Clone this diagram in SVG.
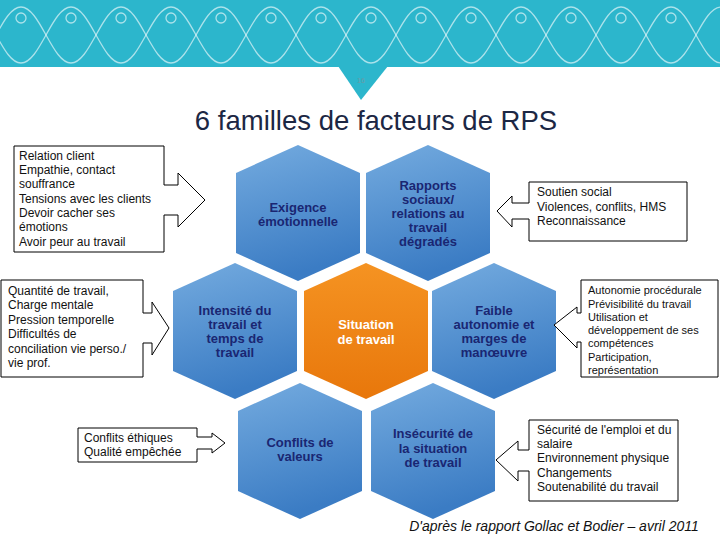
<svg xmlns="http://www.w3.org/2000/svg" width="720" height="540" viewBox="0 0 720 540">
<style>
text{font-family:"Liberation Sans",Arial,sans-serif}
.box{fill:#fff;stroke:#000;stroke-width:1}
.bt{font-size:12px;fill:#111}
.bs{font-size:11px;fill:#111}
.ht{font-size:13px;font-weight:bold;fill:#1a2672;text-anchor:middle}
.hw{font-size:13px;font-weight:bold;fill:#fff;text-anchor:middle}
.wave{fill:none;stroke:#fff;stroke-opacity:.6;stroke-width:1.3}
</style>
<defs>
<linearGradient id="gb" x1="0" y1="0" x2="0.25" y2="1">
<stop offset="0" stop-color="#74abdf"/>
<stop offset="1" stop-color="#3b7cc4"/>
</linearGradient>
<linearGradient id="go" x1="0" y1="0" x2="0" y2="1">
<stop offset="0" stop-color="#f59322"/>
<stop offset="1" stop-color="#e8770b"/>
</linearGradient>
<polygon id="hex" points="0,-68 62,-40 62,40 0,68 -62,40 -62,-40"/>
<clipPath id="bc"><rect x="0" y="0" width="720" height="67"/></clipPath>
</defs>
<rect width="720" height="540" fill="#fff"/>
<g id="banner">
<rect x="0" y="0" width="720" height="67" fill="#2cb6cc"/>
<polygon points="338,66 388,66 361,100" fill="#2cb6cc"/>
<g clip-path="url(#bc)">
<path class="wave" d="M -29 63 C -10 63 2 7 21 7 S 52 63 71 63 S 102 7 121 7 S 152 63 171 63 S 202 7 221 7 S 252 63 271 63 S 302 7 321 7 S 352 63 371 63 S 402 7 421 7 S 452 63 471 63 S 502 7 521 7 S 552 63 571 63 S 602 7 621 7 S 652 63 671 63 S 702 7 721 7 S 752 63 771 63"/>
<path class="wave" d="M -29 7 C -10 7 2 63 21 63 S 52 7 71 7 S 102 63 121 63 S 152 7 171 7 S 202 63 221 63 S 252 7 271 7 S 302 63 321 63 S 352 7 371 7 S 402 63 421 63 S 452 7 471 7 S 502 63 521 63 S 552 7 571 7 S 602 63 621 63 S 652 7 671 7 S 702 63 721 63 S 752 7 771 7"/>
<g class="wave">
<circle cx="21" cy="18" r="5"/><circle cx="71" cy="18" r="5"/><circle cx="121" cy="18" r="5"/><circle cx="171" cy="18" r="5"/><circle cx="221" cy="18" r="5"/><circle cx="271" cy="18" r="5"/><circle cx="321" cy="18" r="5"/><circle cx="371" cy="18" r="5"/><circle cx="421" cy="18" r="5"/><circle cx="471" cy="18" r="5"/><circle cx="521" cy="18" r="5"/><circle cx="571" cy="18" r="5"/><circle cx="621" cy="18" r="5"/><circle cx="671" cy="18" r="5"/>
</g>
</g>
<text x="361" y="83" font-size="7" fill="#6a9aa6" text-anchor="middle">16</text>
</g>
<text id="title" x="376" y="130" font-size="27.5" fill="#1c2744" text-anchor="middle">6 familles de facteurs de RPS</text>

<g id="hex-exigence">
<use href="#hex" x="298" y="213" fill="url(#gb)"/>
<text class="ht" x="298" y="212">Exigence</text>
<text class="ht" x="298" y="226">émotionnelle</text>
</g>
<g id="hex-rapports">
<use href="#hex" x="428" y="213" fill="url(#gb)"/>
<text class="ht" x="428" y="190">Rapports</text>
<text class="ht" x="428" y="204">sociaux/</text>
<text class="ht" x="428" y="218">relations au</text>
<text class="ht" x="428" y="232">travail</text>
<text class="ht" x="428" y="246">dégradés</text>
</g>
<g id="hex-intensite">
<use href="#hex" x="235" y="331" fill="url(#gb)"/>
<text class="ht" x="235" y="315">Intensité du</text>
<text class="ht" x="235" y="329">travail et</text>
<text class="ht" x="235" y="343">temps de</text>
<text class="ht" x="235" y="357">travail</text>
</g>
<g id="hex-situation">
<use href="#hex" x="366" y="331" fill="url(#go)"/>
<text class="hw" x="366" y="329">Situation</text>
<text class="hw" x="366" y="344">de travail</text>
</g>
<g id="hex-faible">
<use href="#hex" x="494" y="331" fill="url(#gb)"/>
<text class="ht" x="494" y="315">Faible</text>
<text class="ht" x="494" y="329">autonomie et</text>
<text class="ht" x="494" y="343">marges de</text>
<text class="ht" x="494" y="357">manœuvre</text>
</g>
<g id="hex-conflits">
<use href="#hex" x="300" y="451" fill="url(#gb)"/>
<text class="ht" x="300" y="447">Conflits de</text>
<text class="ht" x="300" y="461">valeurs</text>
</g>
<g id="hex-insecurite">
<use href="#hex" x="433" y="451" fill="url(#gb)"/>
<text class="ht" x="433" y="438">Insécurité de</text>
<text class="ht" x="433" y="453">la situation</text>
<text class="ht" x="433" y="467">de travail</text>
</g>

<g id="connectors">
<path class="box" d="M14,146 H164 V185 H178 V173 L205,200 L178,227 V215 H164 V252 H14 Z"/>
<path class="box" d="M1,280 H143 V313 H152 V302 L169,328 L152,355 V343 H143 V377 H1 Z"/>
<path class="box" d="M78,428 H197 V437 H212 V433 L225,443 L212,453 V449 H197 V462 H78 Z"/>
<path class="box" d="M529,182 H687 V241 H529 V219 H512 V227 L497,211 L512,196 V203 H529 Z"/>
<path class="box" d="M581,280 H718 V377 H581 V342 H577 V348 L554,325 L577,307 V313 H581 Z"/>
<path class="box" d="M529,420 H678 V501 H529 V471 H518 V481 L496,460 L518,441 V450 H529 Z"/>
</g>

<g id="box-relation">
<text class="bt" x="19" y="160">Relation client</text>
<text class="bt" x="19" y="174">Empathie, contact</text>
<text class="bt" x="19" y="188">souffrance</text>
<text class="bt" x="19" y="203">Tensions avec les clients</text>
<text class="bt" x="19" y="217">Devoir cacher ses</text>
<text class="bt" x="19" y="231">émotions</text>
<text class="bt" x="19" y="246">Avoir peur au travail</text>
</g>
<g id="box-quantite">
<text class="bt" x="8" y="295">Quantité de travail,</text>
<text class="bt" x="8" y="309">Charge mentale</text>
<text class="bt" x="8" y="324">Pression temporelle</text>
<text class="bt" x="8" y="338">Difficultés de</text>
<text class="bt" x="8" y="353">conciliation vie perso./</text>
<text class="bt" x="8" y="367">vie prof.</text>
</g>
<g id="box-ethique">
<text class="bt" x="84" y="442">Conflits éthiques</text>
<text class="bt" x="84" y="456">Qualité empêchée</text>
</g>
<g id="box-soutien">
<text class="bt" x="537" y="196">Soutien social</text>
<text class="bt" x="537" y="211">Violences, conflits, HMS</text>
<text class="bt" x="537" y="225">Reconnaissance</text>
</g>
<g id="box-autonomie">
<text class="bs" x="588" y="294">Autonomie procédurale</text>
<text class="bs" x="588" y="308">Prévisibilité du travail</text>
<text class="bs" x="588" y="321">Utilisation et</text>
<text class="bs" x="588" y="334">développement de ses</text>
<text class="bs" x="588" y="347">compétences</text>
<text class="bs" x="588" y="361">Participation,</text>
<text class="bs" x="588" y="374">représentation</text>
</g>
<g id="box-securite">
<text class="bt" x="537" y="434">Sécurité de l'emploi et du</text>
<text class="bt" x="537" y="448">salaire</text>
<text class="bt" x="537" y="462">Environnement physique</text>
<text class="bt" x="537" y="477">Changements</text>
<text class="bt" x="537" y="491">Soutenabilité du travail</text>
</g>
<text id="source" x="554" y="531" font-size="14" font-style="italic" fill="#111" text-anchor="middle">D'après le rapport Gollac et Bodier – avril 2011</text>
</svg>
